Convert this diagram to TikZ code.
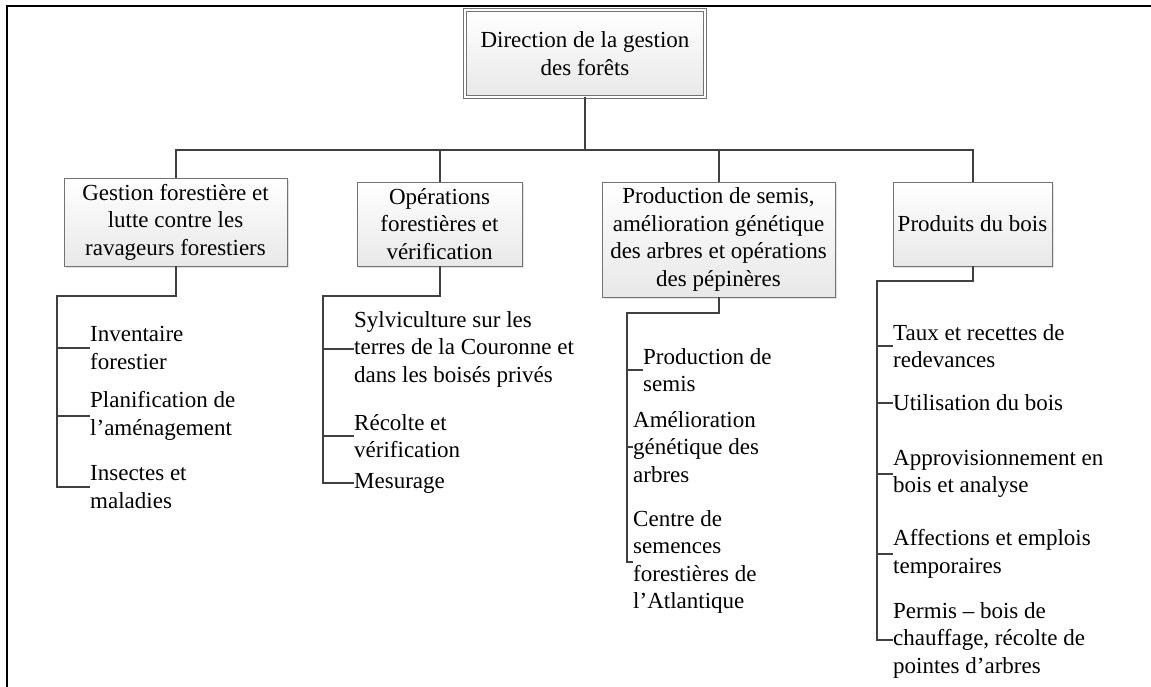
\documentclass[tikz,border=0pt]{standalone}
\usepackage{fontspec}
\setmainfont{Liberation Serif}
\usetikzlibrary{shadows}
\begin{document}
\begin{tikzpicture}[x=1pt,y=-1pt,
  every node/.style={font=\fontsize{23}{27.5}\selectfont},
  conn/.style={draw=black!75, line width=2pt},
  unit/.style={draw=black!55, line width=0.9pt, top color=white, bottom color=black!9,
    drop shadow={shadow xshift=2pt,shadow yshift=-2pt,fill=black!22},
    align=center, inner sep=2pt},
  item/.style={anchor=west, align=left, inner sep=0pt}]
\useasboundingbox (0,0) rectangle (1151,687);
\fill[white] (0,0) rectangle (1151,687);
% page frame
\draw[line width=2pt] (7,687) -- (7,6) -- (1151,6);
% units
\node[unit, double=white, double distance=1.6pt, minimum width=240pt, minimum height=87pt] (top) at (585,53.5) {Direction de la gestion\\des forêts};
\node[unit, minimum width=223pt, minimum height=88pt] (b1) at (175.5,222) {Gestion forestière et\\lutte contre les\\ravageurs forestiers};
\node[unit, minimum width=165pt, minimum height=84pt] (b2) at (439.5,224) {Opérations\\forestières et\\vérification};
\node[unit, minimum width=233pt, minimum height=115pt] (b3) at (718.5,239.5) {Production de semis,\\amélioration génétique\\des arbres et opérations\\des pépinères};
\node[unit, minimum width=159pt, minimum height=84pt] (b4) at (972.5,224) {Produits du bois};
% items
\node[item] (i11) at (90,348) {Inventaire\\forestier};
\node[item] (i12) at (90,416) {Planification de\\l’aménagement};
\node[item] (i13) at (90,487) {Insectes et\\maladies};
\node[item] (i21) at (354,349) {Sylviculture sur les\\terres de la Couronne et\\dans les boisés privés};
\node[item] (i22) at (354,436) {Récolte et\\vérification};
\node[item] (i23) at (354,483) {Mesurage};
\node[item] (i31) at (643,370) {Production de\\semis};
\node[item] (i32) at (633,447) {Amélioration\\génétique des\\arbres};
\node[item] (i33) at (633,562) {Centre de\\semences\\forestières de\\l’Atlantique};
\node[item] (i41) at (893,346) {Taux et recettes de\\redevances};
\node[item] (i42) at (893,403) {Utilisation du bois};
\node[item] (i43) at (893,474) {Approvisionnement en\\bois et analyse};
\node[item] (i44) at (893,554) {Affections et emplois\\temporaires};
\node[item] (i45) at (893,640) {Permis – bois de\\chauffage, récolte de\\pointes d’arbres};
% top-level connectors
\coordinate (bus) at (0,150);
\draw[conn] (top.south) -- (top.south |- bus);
\draw[conn] (b1.north) -- (b1.north |- bus) -- (b4.north |- bus) -- (b4.north);
\draw[conn] (b2.north) -- (b2.north |- bus);
\draw[conn] (b3.north) -- (b3.north |- bus);
% column 1
\coordinate (s1) at (57,296);
\draw[conn] (b1.south) -- (b1.south |- s1) -- (s1) -- (s1 |- i13.west) -- (i13.west);
\draw[conn] (s1 |- i11.west) -- (i11.west);
\draw[conn] (s1 |- i12.west) -- (i12.west);
% column 2
\coordinate (s2) at (323,296);
\draw[conn] (b2.south) -- (b2.south |- s2) -- (s2) -- (s2 |- i23.west) -- (i23.west);
\draw[conn] (s2 |- i21.west) -- (i21.west);
\draw[conn] (s2 |- i22.west) -- (i22.west);
% column 3
\coordinate (s3) at (627,313);
\draw[conn] (b3.south) -- (b3.south |- s3) -- (s3) -- (s3 |- i33.west) -- (i33.west);
\draw[conn] (s3 |- i31.west) -- (i31.west);
\draw[conn] (s3 |- i32.west) -- (i32.west);
% column 4
\coordinate (s4) at (877,281);
\draw[conn] (b4.south) -- (b4.south |- s4) -- (s4) -- (s4 |- i45.west) -- (i45.west);
\draw[conn] (s4 |- i41.west) -- (i41.west);
\draw[conn] (s4 |- i42.west) -- (i42.west);
\draw[conn] (s4 |- i43.west) -- (i43.west);
\draw[conn] (s4 |- i44.west) -- (i44.west);
\end{tikzpicture}
\end{document}
